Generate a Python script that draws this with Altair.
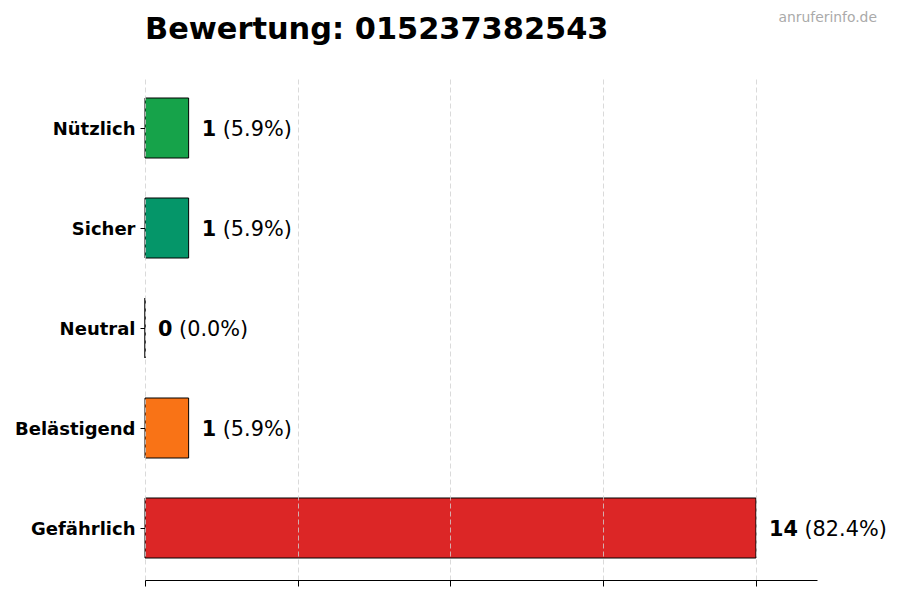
import altair as alt
import pandas as pd

categories = ["Nützlich", "Sicher", "Neutral", "Belästigend", "Gefährlich"]
counts = [1, 1, 0, 1, 14]
colors = ["#16a34a", "#059669", "#6b7280", "#f97316", "#dc2626"]
x_ticks = [0, 3.5, 7, 10.5, 14]
title_text = "Bewertung: 015237382543"
watermark = "anruferinfo.de"

total = sum(counts)
df = pd.DataFrame({
    "cat": categories,
    "n": counts,
    "color": colors,
})
df["num"] = df["n"].astype(str)
df["pct"] = df["n"].apply(lambda v: f"({v / total * 100:.1f}%)")

FONT = "DejaVu Sans"
FS = 20.8

base = alt.Chart(df)

y_enc = alt.Y(
    "cat:N",
    sort=categories,
    scale=alt.Scale(paddingInner=0.4, paddingOuter=0.22),
    axis=alt.Axis(
        title=None, domain=False, ticks=True, tickSize=5, tickColor="black",
        labelFont=FONT, labelFontWeight="bold", labelFontSize=18,
        labelColor="black", labelPadding=5, labelOffset=2, grid=False,
    ),
)
x_scale = alt.Scale(domain=[0, 15.4], nice=False, zero=True)

bars = base.mark_bar(stroke="black", strokeWidth=1, cornerRadius=0).encode(
    x=alt.X(
        "n:Q", scale=x_scale,
        axis=alt.Axis(
            values=x_ticks, labels=False, title=None, grid=True,
            gridDash=[5, 3], gridColor="#d0d0d0", gridWidth=0.8,
            domainColor="black", domainWidth=1, tickColor="black",
            tickSize=6, zindex=1,
        ),
    ),
    y=y_enc,
    color=alt.Color("color:N", scale=None, legend=None),
)

num_text = base.mark_text(
    align="left", baseline="middle", dx=13, dy=2, font=FONT, fontSize=FS,
    fontWeight="bold", color="black",
).encode(
    x=alt.X("n:Q", scale=x_scale),
    y=alt.Y("cat:N", sort=categories),
    text="num:N",
)

pct1 = base.transform_filter("datum.n < 10").mark_text(
    align="left", baseline="middle", dx=13 + 0.696 * FS + 0.318 * FS, dy=2,
    font=FONT, fontSize=FS, color="black",
).encode(
    x=alt.X("n:Q", scale=x_scale),
    y=alt.Y("cat:N", sort=categories),
    text="pct:N",
)

pct2 = base.transform_filter("datum.n >= 10").mark_text(
    align="left", baseline="middle", dx=13 + 2 * 0.696 * FS + 0.318 * FS, dy=2,
    font=FONT, fontSize=FS, color="black",
).encode(
    x=alt.X("n:Q", scale=x_scale),
    y=alt.Y("cat:N", sort=categories),
    text="pct:N",
)

wm = alt.Chart(pd.DataFrame({"t": [watermark]})).mark_text(
    align="right", baseline="alphabetic", font=FONT, fontSize=13.9,
    color="#aaaaaa",
).encode(
    x=alt.value(732),
    y=alt.value(-54),
    text="t:N",
)

title = alt.Chart(pd.DataFrame({"t": [title_text]})).mark_text(
    align="left", baseline="alphabetic", font=FONT, fontSize=30.4,
    fontWeight="bold", color="black",
).encode(
    x=alt.value(0),
    y=alt.value(-37),
    text="t:N",
)

chart = alt.layer(bars, num_text, pct1, pct2, wm, title).properties(
    width=672,
    height=504,
    autosize=alt.AutoSizeParams(type="none"),
    padding={"left": 137, "top": 68, "right": 75, "bottom": 10},
).configure(background="white").configure_view(stroke=None)

chart.save("out.html", embed_options={"renderer": "svg", "actions": False})
